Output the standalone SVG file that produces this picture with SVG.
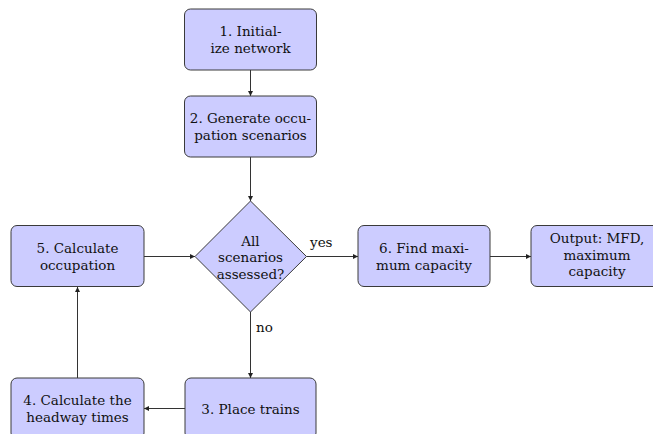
<svg xmlns="http://www.w3.org/2000/svg" width="653" height="434" viewBox="0 0 653 434">
<style>
.box{fill:#ccccff;stroke:#3a3a3a;stroke-width:1}
text{font-family:"DejaVu Serif","Liberation Serif",serif;font-size:13.5px;fill:#111}
.t{text-anchor:middle}
.c{fill:none;stroke:#333;stroke-width:1;marker-end:url(#ah)}
</style>
<defs>
<marker id="ah" markerWidth="6" markerHeight="6" refX="5" refY="3" orient="auto" markerUnits="userSpaceOnUse">
<path d="M0,0.5 L5,3 L0,5.5 Z" fill="#222"/>
</marker>
</defs>
<rect width="653" height="434" fill="#fff"/>
<g id="connectors">
<line class="c" x1="250.5" y1="70" x2="250.5" y2="96"/>
<line class="c" x1="250.5" y1="157" x2="250.5" y2="201"/>
<line class="c" x1="306.5" y1="256.5" x2="358" y2="256.5"/>
<line class="c" x1="490" y1="256.5" x2="531" y2="256.5"/>
<line class="c" x1="250.5" y1="312" x2="250.5" y2="378"/>
<line class="c" x1="185" y1="408.5" x2="144" y2="408.5"/>
<line class="c" x1="77.5" y1="378" x2="77.5" y2="287"/>
<line class="c" x1="144" y1="256.5" x2="195" y2="256.5"/>
<text x="310" y="247">yes</text>
<text x="256" y="332">no</text>
</g>
<g id="n1">
<rect class="box" x="184.5" y="9" width="132" height="61" rx="6"/>
<text class="t" x="250.5" y="36">1. Initial-</text>
<text class="t" x="250.5" y="52.5">ize network</text>
</g>
<g id="n2">
<rect class="box" x="184.5" y="96" width="132" height="61" rx="6"/>
<text class="t" x="250.5" y="123">2. Generate occu-</text>
<text class="t" x="250.5" y="139.5">pation scenarios</text>
</g>
<g id="decision">
<polygon class="box" points="250.5,201 306.5,256.5 250.5,312 195,256.5"/>
<text class="t" x="250.5" y="245.5">All</text>
<text class="t" x="250.5" y="262">scenarios</text>
<text class="t" x="250.5" y="278.5">assessed?</text>
</g>
<g id="n5">
<rect class="box" x="11" y="225.5" width="133" height="61" rx="6"/>
<text class="t" x="77.5" y="253">5. Calculate</text>
<text class="t" x="77.5" y="269.5">occupation</text>
</g>
<g id="n6">
<rect class="box" x="358" y="225.5" width="132" height="61" rx="6"/>
<text class="t" x="424" y="253">6. Find maxi-</text>
<text class="t" x="424" y="269.5">mum capacity</text>
</g>
<g id="output">
<rect class="box" x="531" y="225.5" width="132" height="61" rx="6"/>
<text class="t" x="597" y="243">Output: MFD,</text>
<text class="t" x="597" y="259.5">maximum</text>
<text class="t" x="597" y="276">capacity</text>
</g>
<g id="n3">
<rect class="box" x="185" y="378" width="131" height="61" rx="6"/>
<text class="t" x="250.5" y="413.5">3. Place trains</text>
</g>
<g id="n4">
<rect class="box" x="11" y="378" width="133" height="61" rx="6"/>
<text class="t" x="77.5" y="405">4. Calculate the</text>
<text class="t" x="77.5" y="421.5">headway times</text>
</g>
</svg>
